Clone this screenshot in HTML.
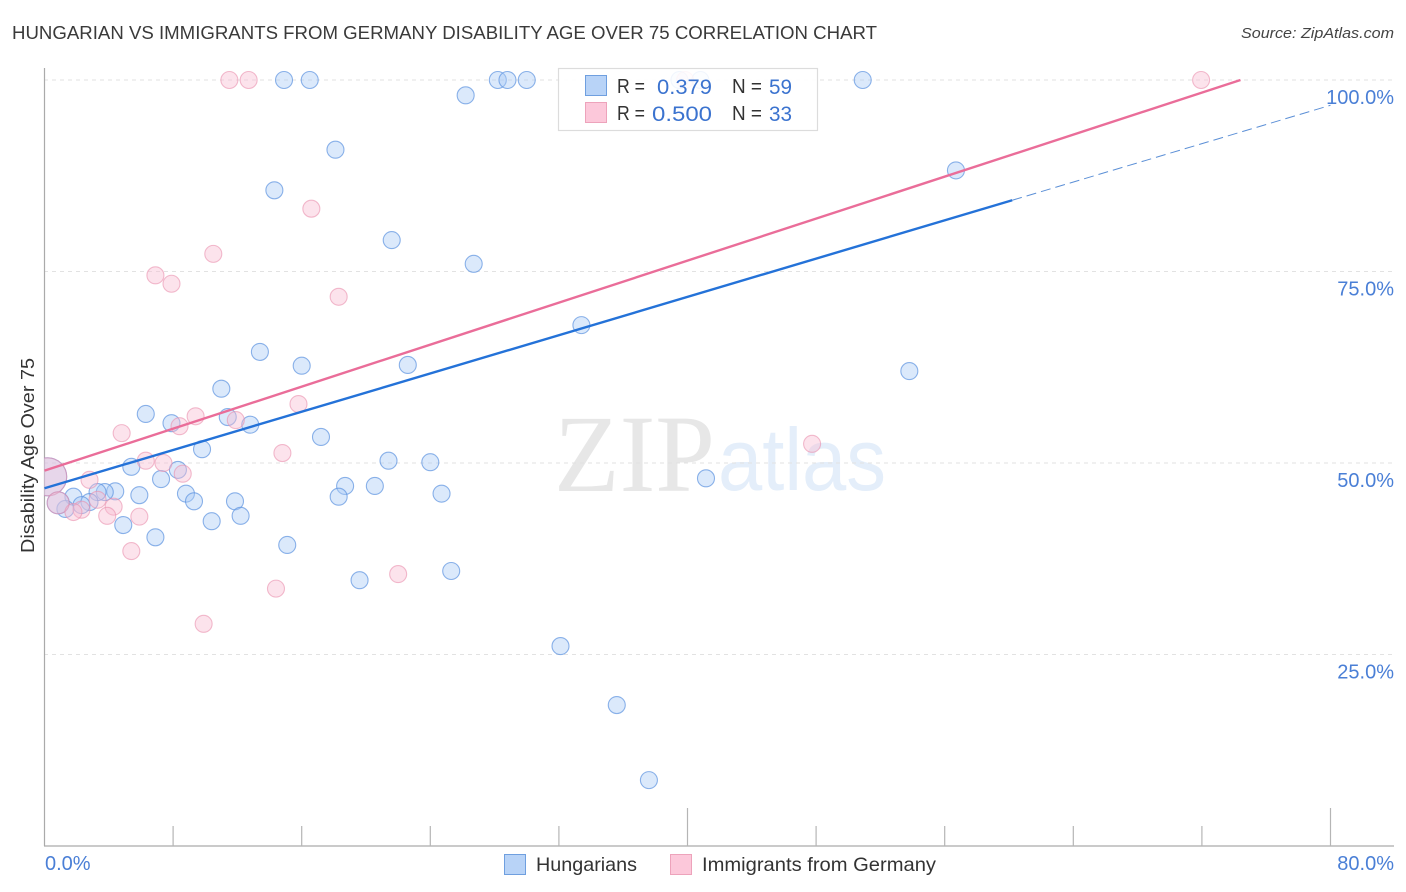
<!DOCTYPE html>
<html>
<head>
<meta charset="utf-8">
<title>Hungarian vs Immigrants from Germany Disability Age Over 75 Correlation Chart</title>
<style>
html,body{margin:0;padding:0;background:#fff;}
svg{display:block;font-family:"Liberation Sans",sans-serif;}
</style>
</head>
<body>
<svg id="chart" width="1406" height="892" viewBox="0 0 1406 892" xmlns="http://www.w3.org/2000/svg">
  <defs>
    <clipPath id="plot-clip"><rect x="44" y="60" width="1350" height="786"/></clipPath>
  </defs>
  <text x="12" y="39" font-size="18.5" fill="#3a3a3a" textLength="865" lengthAdjust="spacingAndGlyphs">HUNGARIAN VS IMMIGRANTS FROM GERMANY DISABILITY AGE OVER 75 CORRELATION CHART</text>
  <text x="1241" y="38" font-size="15" font-style="italic" fill="#444" textLength="153" lengthAdjust="spacingAndGlyphs">Source: ZipAtlas.com</text>
  <text transform="translate(34,553) rotate(-90)" font-size="18" fill="#333" textLength="195" lengthAdjust="spacingAndGlyphs">Disability Age Over 75</text>

  <g>
    <text x="554" y="491" font-family="'Liberation Serif',serif" font-size="110" fill="#e7e7e7" textLength="161" lengthAdjust="spacingAndGlyphs">ZIP</text>
    <text x="718" y="490" font-size="88" fill="#e4eefa" textLength="168" lengthAdjust="spacingAndGlyphs">atlas</text>
  </g>

  <g id="grid"></g>
  <g id="axes">
    <line x1="44.5" y1="68" x2="44.5" y2="846" stroke="#aaa" stroke-width="1.2"/>
    <line x1="44" y1="846" x2="1394" y2="846" stroke="#aaa" stroke-width="1.2"/>
  </g>
  <g id="xticks"></g>
  <g id="ylabels"></g>
  <g id="xlabels"></g>

  <g clip-path="url(#plot-clip)">
    <g id="points-blue"></g>
    <g id="points-pink"></g>
    <g id="trends"></g>
  </g>

  <g>
    <rect x="558.5" y="68.5" width="259" height="62" fill="#fff" fill-opacity="0.88" stroke="#dcdcdc" stroke-width="1.2"/>
    <rect x="585.5" y="75.5" width="21" height="20" fill="#b8d3f7" stroke="#6f9fdf"/>
    <rect x="585.5" y="102.5" width="21" height="20" fill="#fcc8da" stroke="#eda3bb"/>
    <g font-size="20" fill="#333">
      <text x="617" y="93" textLength="28" lengthAdjust="spacingAndGlyphs">R =</text>
      <text x="617" y="120" textLength="28" lengthAdjust="spacingAndGlyphs">R =</text>
      <text x="732" y="93" textLength="30" lengthAdjust="spacingAndGlyphs">N =</text>
      <text x="732" y="120" textLength="30" lengthAdjust="spacingAndGlyphs">N =</text>
    </g>
    <g font-size="21" fill="#3b73cf">
      <text x="657" y="94" textLength="55" lengthAdjust="spacingAndGlyphs">0.379</text>
      <text x="652" y="121" textLength="60" lengthAdjust="spacingAndGlyphs">0.500</text>
      <text x="769" y="94" textLength="23" lengthAdjust="spacingAndGlyphs">59</text>
      <text x="769" y="121" textLength="23" lengthAdjust="spacingAndGlyphs">33</text>
    </g>
  </g>

  <g>
    <rect x="504.5" y="854.5" width="21" height="20" fill="#b8d3f7" stroke="#6f9fdf"/>
    <text x="536" y="871" font-size="19.5" fill="#333" textLength="101" lengthAdjust="spacingAndGlyphs">Hungarians</text>
    <rect x="670.5" y="854.5" width="21" height="20" fill="#fcc8da" stroke="#eda3bb"/>
    <text x="702" y="871" font-size="19.5" fill="#333" textLength="234" lengthAdjust="spacingAndGlyphs">Immigrants from Germany</text>
  </g>
</svg>
<script>
// Chart data (percent values)
const xTickValues = [0, 8, 16, 24, 32, 40, 48, 56, 64, 72, 80];
const xTallTicks = [40, 80];
const xTickLabels = ["0.0%", "80.0%"];
const yTickValues = [25, 50, 75, 100];
const yTickLabels = ["25.0%", "50.0%", "75.0%", "100.0%"];

const hungariansX = [14.9,16.5,28.2,28.8,30.0,39.5,40.8,26.2,18.1,14.3,21.6,26.7,56.7,50.9,33.4,53.8,13.4,16.0,22.6,11.0,6.3,7.9,11.4,12.8,9.8,17.2,5.4,8.3,7.25,21.4,24.0,41.15,18.7,20.55,18.3,24.7,5.9,8.8,9.3,11.85,4.4,3.75,3.3,1.8,2.8,2.3,1.3,4.9,10.4,12.2,6.9,15.1,19.6,25.3,32.1,35.6,37.6,0.2,0.85];
const hungariansY = [100,100,100,100,100,100,100,98.0,90.9,85.6,79.1,76.0,88.2,100,68.0,62.0,64.5,62.7,62.8,59.7,56.4,55.2,56.0,55.0,51.8,53.4,49.5,49.1,47.9,50.3,50.1,48.0,47.0,47.0,45.6,46.0,45.8,46.0,45.0,45.0,46.3,46.2,46.2,45.6,44.9,44.5,44.0,41.9,42.4,43.1,40.3,39.3,34.7,35.9,26.1,18.4,8.6,48.2,44.8];
const hungariansLarge = {57: 19, 58: 11};

const immigrantsX = [11.5,12.7,71.95,39.85,16.6,10.5,6.9,7.9,18.3,15.8,9.4,11.9,8.4,4.8,6.3,7.4,8.6,14.8,47.75,2.8,0.2,0.85,3.3,4.3,2.3,1.8,3.9,5.9,5.4,14.4,22.0,9.9];
const immigrantsY = [100,100,100,100,83.2,77.3,74.5,73.4,71.7,57.7,56.1,55.6,54.8,53.9,50.3,50.0,48.6,51.3,52.5,47.8,48.2,44.8,45.2,44.3,43.9,43.6,43.1,43.0,38.5,33.6,35.5,29.0];
const immigrantsLarge = {20: 19, 21: 11};

const blueTrendX = [0, 60.2];
const blueTrendY = [46.7, 84.3];
const blueDashX = [60.2, 80];
const blueDashY = [84.3, 96.7];
const pinkTrendX = [0, 74.4];
const pinkTrendY = [49.0, 100];

// Axis functions
function xScale(v) { return 44.5 + v * (1330.5 - 44.5) / 80; }
function yScale(v) { return 846 - v * 7.66; }

const NS = "http://www.w3.org/2000/svg";
function make(tag, parent, attrs) {
  const el = document.createElementNS(NS, tag);
  for (const k in attrs) el.setAttribute(k, attrs[k]);
  parent.appendChild(el);
  return el;
}

const gridG = document.getElementById("grid");
yTickValues.forEach(function (v) {
  const g = make("line", gridG, {x1: 44, x2: 1394, y1: yScale(v), y2: yScale(v), stroke: "#e2e2e2", "stroke-width": 1, "stroke-dasharray": "4 4"});
  
  
});

const tickG = document.getElementById("xticks");
xTickValues.slice(1).forEach(function (v) {
  const tall = xTallTicks.indexOf(v) >= 0;
  const t = make("line", tickG, {x1: xScale(v), x2: xScale(v), y1: tall ? 808 : 826, y2: 846, stroke: "#b5b5b5", "stroke-width": 1.2});
  
  
});

const yLabelG = document.getElementById("ylabels");
yTickValues.forEach(function (v, i) {
  const t = make("text", yLabelG, {x: 1394, y: yScale(v) + 24, "text-anchor": "end", "font-size": 20, fill: "#4a7fd6"});
  t.textContent = yTickLabels[i];
  
  
});

const xLabelG = document.getElementById("xlabels");
const xLabelStart = make("text", xLabelG, {x: 45, y: 870, "font-size": 20, fill: "#4a7fd6"});
xLabelStart.textContent = xTickLabels[0];


const xLabelEnd = make("text", xLabelG, {x: 1394, y: 870, "text-anchor": "end", "font-size": 20, fill: "#4a7fd6"});
xLabelEnd.textContent = xTickLabels[1];



const blueG = document.getElementById("points-blue");
hungariansX.forEach(function (v, i) {
  const c = make("circle", blueG, {cx: xScale(v), cy: yScale(hungariansY[i]), r: hungariansLarge[i] || 8.5, fill: "#a9cbf6", "fill-opacity": 0.42, stroke: "#5c93e0", "stroke-opacity": 0.7, "stroke-width": 1.1});
  
  
});

const pinkG = document.getElementById("points-pink");
immigrantsX.forEach(function (v, i) {
  const c = make("circle", pinkG, {cx: xScale(v), cy: yScale(immigrantsY[i]), r: immigrantsLarge[i] || 8.5, fill: "#f9bdd1", "fill-opacity": 0.42, stroke: "#ea8fae", "stroke-opacity": 0.6, "stroke-width": 1.1});
  
  
});

const trendG = document.getElementById("trends");
const blueDash = make("line", trendG, {x1: xScale(blueDashX[0]), y1: yScale(blueDashY[0]), x2: xScale(blueDashX[1]), y2: yScale(blueDashY[1]), stroke: "#5b8fd6", "stroke-width": 1, "stroke-dasharray": "10 5"});


const blueLine = make("line", trendG, {x1: xScale(blueTrendX[0]), y1: yScale(blueTrendY[0]), x2: xScale(blueTrendX[1]), y2: yScale(blueTrendY[1]), stroke: "#2472d8", "stroke-width": 2.4});


const pinkLine = make("line", trendG, {x1: xScale(pinkTrendX[0]), y1: yScale(pinkTrendY[0]), x2: xScale(pinkTrendX[1]), y2: yScale(pinkTrendY[1]), stroke: "#ea6d99", "stroke-width": 2.4});


</script>
</body>
</html>
